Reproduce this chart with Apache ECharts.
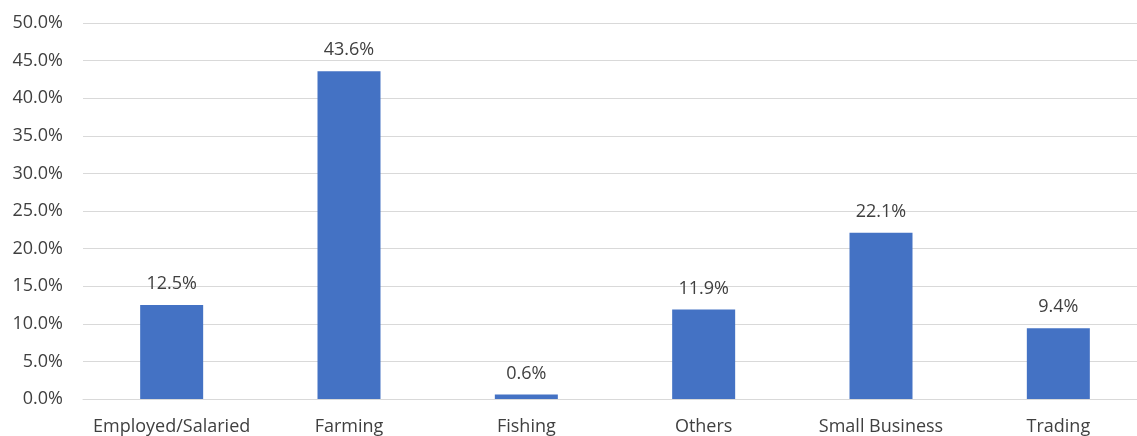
<!DOCTYPE html>
<html><head><meta charset="utf-8">
<script src="https://cdn.jsdelivr.net/npm/echarts@6/dist/echarts.min.js"></script>
<style>html,body{margin:0;padding:0;background:#fff;overflow:hidden}#c{width:1152px;height:436px}</style>
</head><body><div id="c"></div>
<script>
const categories = ["Employed/Salaried","Farming","Fishing","Others","Small Business","Trading"];
const values = [12.5, 43.6, 0.6, 11.9, 22.1, 9.4];
const yMin = 0, yMax = 50, yStep = 5;
const chart = echarts.init(document.getElementById('c'));
const font = 'Open Sans';
chart.setOption({
  animation:false,
  grid:{left:83, top:23, width:1064, height:376, containLabel:false},
  xAxis:{type:'category', data:categories,
    axisLine:{show:true, lineStyle:{color:'#d9d9d9', width:1}},
    axisTick:{show:false},
    axisLabel:{interval:0, color:'#404040', fontSize:18, fontFamily:font, margin:19}},
  yAxis:{type:'value', min:yMin, max:yMax, interval:yStep,
    axisLine:{show:false}, axisTick:{show:false},
    splitLine:{lineStyle:{color:'#d9d9d9', width:1}},
    axisLabel:{color:'#404040', fontSize:18, fontFamily:font, margin:20,
      formatter:v=>v.toFixed(1)+'%'}},
  series:[{type:'bar', data:values, barWidth:63,
    itemStyle:{color:'#4472c4'},
    label:{show:true, position:'top', distance:12, color:'#404040', fontSize:18, fontFamily:font,
      formatter:p=>p.value.toFixed(1)+'%'}}]
});
</script></body></html>
